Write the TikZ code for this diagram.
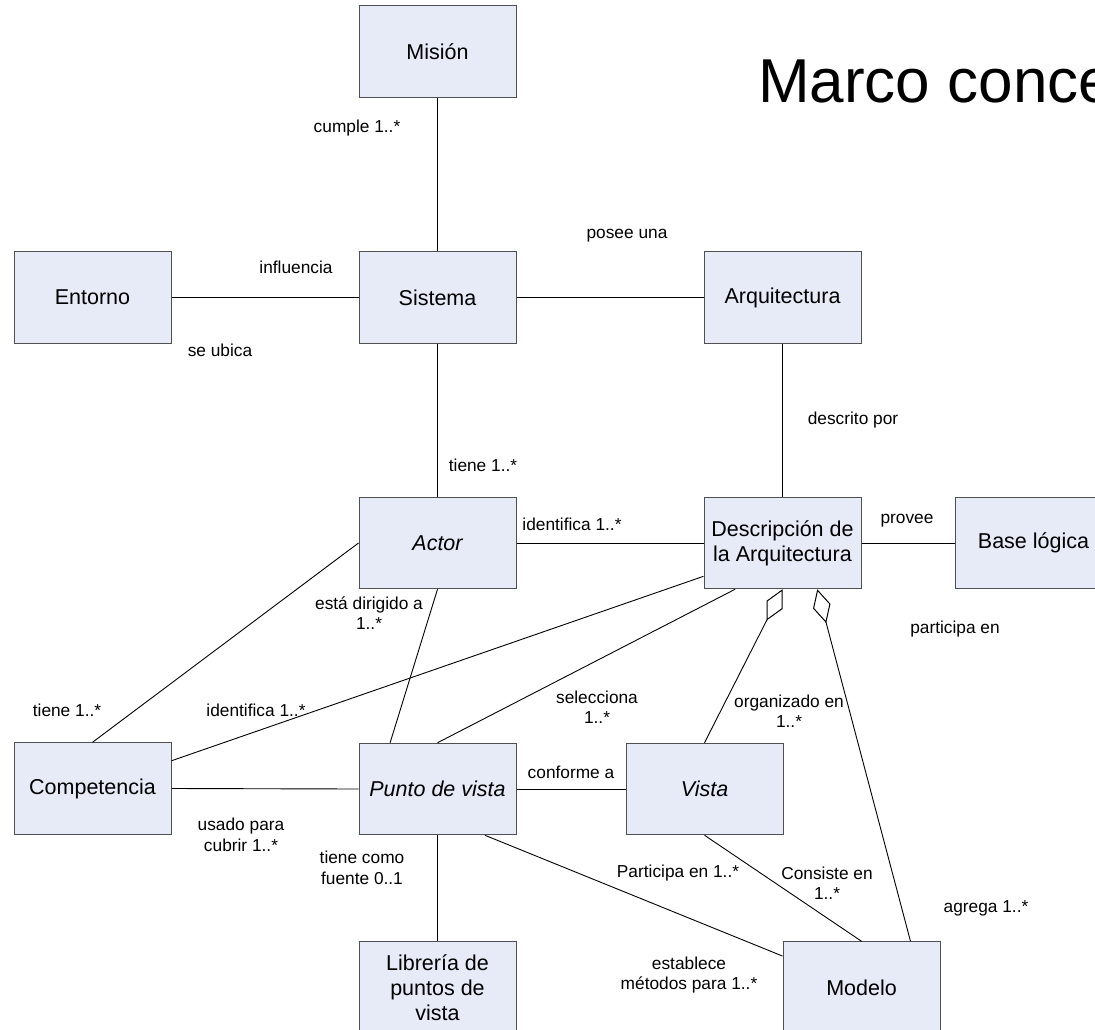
\documentclass[tikz,border=0pt]{standalone}
\usepackage{fontspec}
\setmainfont{Liberation Sans}
\usetikzlibrary{arrows.meta,calc}

\definecolor{boxfill}{RGB}{230,235,247}
\definecolor{boxline}{RGB}{80,80,80}

\tikzset{
  concept/.style={rectangle, draw=boxline, fill=boxfill, line width=1pt,
    minimum width=157pt, minimum height=91.5pt, inner sep=0pt, align=center,
    font=\fontsize{21.5}{25}\selectfont},
  rel/.style={draw=black, line width=0.9pt},
  agg/.style={rel, {Diamond[open, length=35pt, width=18pt, line width=1pt]}-},
  lbl/.style={inner sep=0pt, align=center, font=\fontsize{17.3}{20.5}\selectfont}
}

\begin{document}
\begin{tikzpicture}[x=1pt, y=-1pt]
  \useasboundingbox (0,0) rectangle (1095,1030);
  \clip (0,0) rectangle (1095,1030);

  % title
  \node[anchor=base west, inner sep=0pt, font=\fontsize{62}{70}\selectfont] (title) at (758,103) {Marco conceptual};

  % concepts
  \node[concept] (mision)   at (437.5,51.5)  {Misión};
  \node[concept] (entorno)  at (92.5,297.5)  {Entorno};
  \node[concept] (sistema)  at (437.5,297.5) {Sistema};
  \node[concept] (arq)      at (782.5,297.5) {Arquitectura};
  \node[concept] (actor)    at (437.5,543)   {\itshape Actor};
  \node[concept] (desc)     at (782.5,543)   {Descripción de\\la Arquitectura};
  \node[concept] (base)     at (1033.5,543)  {Base lógica};
  \node[concept] (comp)     at (92.5,788.5)  {Competencia};
  \node[concept] (punto)    at (437.5,789)   {\itshape Punto de vista};
  \node[concept] (vista)    at (704.5,789)   {\itshape Vista};
  \node[concept] (libreria) at (437.5,987.5) {Librería de\\puntos de\\vista};
  \node[concept] (modelo)   at (861.5,987.5) {Modelo};

  % attachment points on box sides
  \coordinate (compNE)   at ($(comp.north east)!0.2!(comp.south east)$);
  \coordinate (descW)    at ($(desc.north west)!0.86!(desc.south west)$);
  \coordinate (puntoNW)  at ($(punto.north west)!0.2!(punto.north east)$);
  \coordinate (descSW)   at ($(desc.south west)!0.2!(desc.south east)$);
  \coordinate (descSE)   at ($(desc.south west)!0.72!(desc.south east)$);
  \coordinate (puntoSE)  at ($(punto.south west)!0.8!(punto.south east)$);
  \coordinate (modeloW)  at ($(modelo.north west)!0.16!(modelo.south west)$);
  \coordinate (modeloNE) at ($(modelo.north west)!0.81!(modelo.north east)$);

  % relations
  \draw[rel] (mision.south) -- (sistema.north);
  \draw[rel] (entorno.east) -- (sistema.west);
  \draw[rel] (sistema.east) -- (arq.west);
  \draw[rel] (sistema.south) -- (actor.north);
  \draw[rel] (arq.south) -- (desc.north);
  \draw[rel] (actor.east) -- (desc.west);
  \draw[rel] (desc.east) -- (base.west);
  \draw[rel] (actor.west) -- (comp.north);
  \draw[rel] (compNE) -- (descW);
  \draw[rel] (comp.east) -- (punto.west);
  \draw[rel] (actor.south) -- (puntoNW);
  \draw[rel] (descSW) -- (punto.north);
  \draw[rel] (punto.east) -- (vista.west);
  \draw[rel] (punto.south) -- (libreria.north);
  \draw[rel] (puntoSE) -- (modeloW);
  \draw[rel] (vista.south) -- (modelo.north);
  \draw[agg] (desc.south) -- (vista.north);
  \draw[agg] (descSE) -- (modeloNE);

  % relation labels
  \node[lbl] (l1)  at (357,128) {cumple 1..*};
  \node[lbl] (l2)  at (627,236) {posee una};
  \node[lbl] (l3)  at (296,267) {influencia};
  \node[lbl] (l4)  at (220,350) {se ubica};
  \node[lbl] (l5)  at (853,420) {descrito por};
  \node[lbl] (l6)  at (483,465) {tiene 1..*};
  \node[lbl] (l7)  at (572,524) {identifica 1..*};
  \node[lbl] (l8)  at (907,521) {provee};
  \node[lbl] (l9)  at (369,613) {está dirigido a\\1..*};
  \node[lbl] (l10) at (955,629) {participa en};
  \node[lbl] (l11) at (67,710)  {tiene 1..*};
  \node[lbl] (l12) at (256,710) {identifica 1..*};
  \node[lbl] (l13) at (597,707) {selecciona\\1..*};
  \node[lbl] (l14) at (789,711) {organizado en\\1..*};
  \node[lbl] (l15) at (571,772) {conforme a};
  \node[lbl] (l16) at (241,835) {usado para\\cubrir 1..*};
  \node[lbl] (l17) at (362,868) {tiene como\\fuente 0..1};
  \node[lbl] (l18) at (678,873) {Participa en 1..*};
  \node[lbl] (l19) at (827,883) {Consiste en\\1..*};
  \node[lbl] (l20) at (689,975) {establece\\métodos para 1..*};
  \node[lbl] (l21) at (986,908) {agrega 1..*};
\end{tikzpicture}
\end{document}
